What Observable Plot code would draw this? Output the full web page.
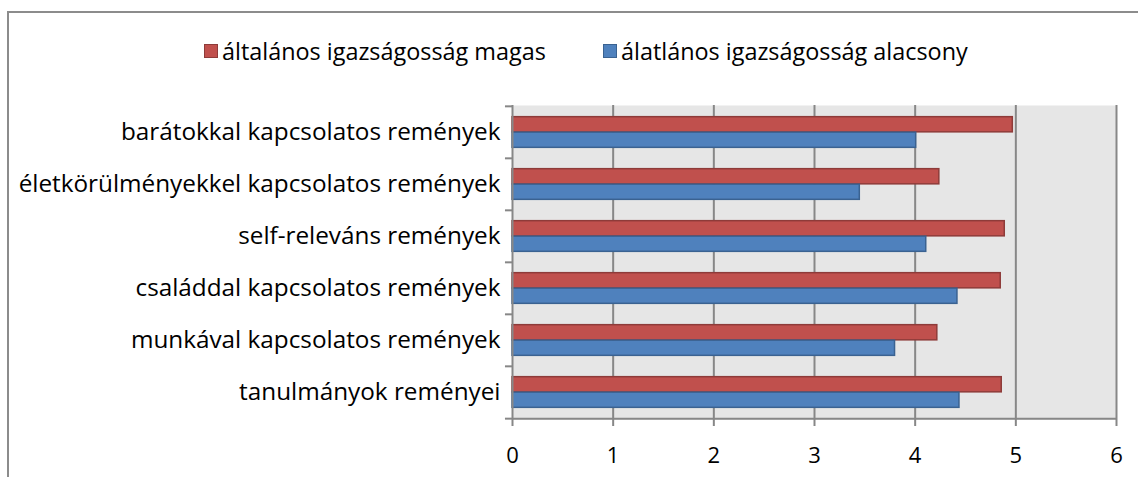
<!DOCTYPE html>
<html>
<head>
<meta charset="utf-8">
<script src="https://cdn.jsdelivr.net/npm/d3@7"></script>
<script src="https://cdn.jsdelivr.net/npm/@observablehq/plot@0.6"></script>
<style>
  html, body { margin: 0; padding: 0; background: #fff; overflow: hidden; }
  body { width: 1138px; height: 477px; position: relative; font-family: "Open Sans", sans-serif; }
  #box { position: absolute; left: 7px; top: 11px; width: 1200px; height: 600px;
         border-left: 2px solid #8c8c8c; border-top: 2px solid #8c8c8c; }
  #legend { position: absolute; top: 35px; left: 0; width: 1138px; font-size: 23.4px; color: #000; }
  .item { position: absolute; top: 0; white-space: nowrap; display: flex; align-items: center; }
  .sw { width: 12px; height: 12px; margin-right: 4px; border: 1px solid; }
  #chart { position: absolute; left: 0; top: 0; }
</style>
</head>
<body>
<div id="box"></div>
<div id="legend"></div>
<div id="chart"></div>
<script>
const categories = [
  "barátokkal kapcsolatos remények",
  "életkörülményekkel kapcsolatos remények",
  "self-releváns remények",
  "családdal kapcsolatos remények",
  "munkával kapcsolatos remények",
  "tanulmányok reményei"
];
const seriesNames = ["általános igazságosság magas", "álatlános igazságosság alacsony"];
const magas = [4.97, 4.24, 4.89, 4.85, 4.22, 4.86];
const alacsony = [4.01, 3.45, 4.11, 4.42, 3.80, 4.44];
const xTicks = [0, 1, 2, 3, 4, 5, 6];
const colors = ["#c0504d", "#4f81bd"];
const strokes = ["#8e3b39", "#3a6291"];

const data = [];
categories.forEach((c, i) => {
  data.push({cat: c, series: seriesNames[0], value: magas[i]});
  data.push({cat: c, series: seriesNames[1], value: alacsony[i]});
});

const W = 1138, H = 477;
const mt = 105, mb = 58, ml = 512, mr = 22;
const bw = (H - mt - mb) / categories.length;
const barH = 15.5;
const pad = (bw - 2 * barH) / 2;

const chart = Plot.plot({
  width: W, height: H,
  marginTop: mt, marginBottom: mb, marginLeft: ml, marginRight: mr,
  style: {fontFamily: "Open Sans, sans-serif", background: "transparent", overflow: "visible"},
  x: {domain: [0, 6]},
  y: {domain: categories, padding: 0},
  marks: [
    Plot.frame({fill: "#e6e6e6", stroke: null}),
    Plot.ruleX([1, 2, 3, 4, 5, 6], {stroke: "#878787", strokeWidth: 2}),
    Plot.barX(data.filter(d => d.series === seriesNames[0]), {
      y: "cat", x: "value", fill: colors[0], stroke: strokes[0], strokeWidth: 1.5,
      insetTop: pad, insetBottom: bw - pad - barH
    }),
    Plot.barX(data.filter(d => d.series === seriesNames[1]), {
      y: "cat", x: "value", fill: colors[1], stroke: strokes[1], strokeWidth: 1.5,
      insetTop: pad + barH, insetBottom: pad
    }),
    Plot.ruleX([0], {stroke: "#878787", strokeWidth: 2}),
    Plot.ruleY([categories[categories.length - 1]], {dy: bw / 2, stroke: "#878787", strokeWidth: 2, x1: 0, x2: 6}),
    Plot.ruleY(categories, {dy: -bw / 2, x1: -0.07, x2: 0, stroke: "#878787", strokeWidth: 2}),
    Plot.ruleY([categories[categories.length - 1]], {dy: bw / 2, x1: -0.07, x2: 0, stroke: "#878787", strokeWidth: 2}),
    Plot.axisY({tickSize: 0, tickPadding: 12, fontSize: 24.3, fill: "#000", label: null}),
    Plot.axisX({ticks: xTicks, tickSize: 7, tickPadding: 21, fontSize: 22, stroke: "#878787", strokeWidth: 2, fill: "#000", label: null, tickFormat: d => String(d)})
  ]
});
document.getElementById("chart").appendChild(chart);

const legend = document.getElementById("legend");
const lpos = [204, 603];
seriesNames.forEach((s, i) => {
  const it = document.createElement("div");
  it.className = "item";
  it.style.left = lpos[i] + "px";
  const sw = document.createElement("span");
  sw.className = "sw";
  sw.style.background = colors[i];
  sw.style.borderColor = strokes[i];
  const t = document.createElement("span");
  t.textContent = s;
  it.appendChild(sw); it.appendChild(t);
  legend.appendChild(it);
});
</script>
</body>
</html>
